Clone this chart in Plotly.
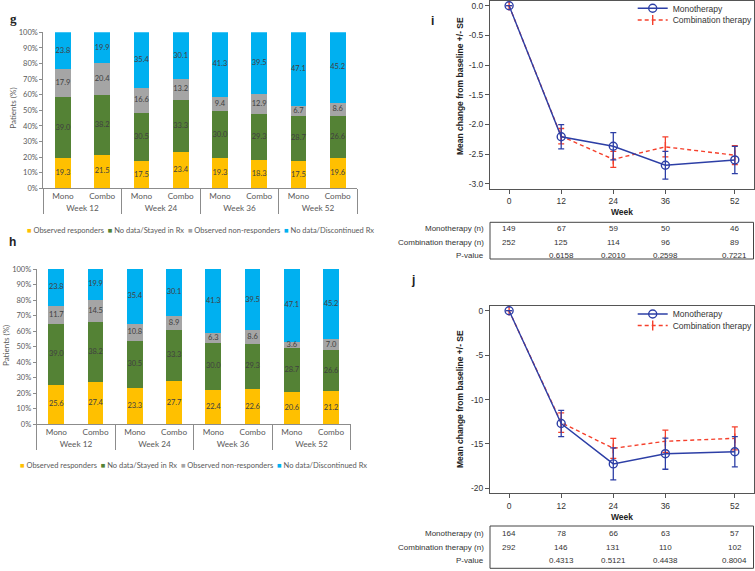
import plotly.graph_objects as go

W, H = 755, 571

# ---------------- data: panels g and h (stacked percentages) ----------------
bar_weeks = ["Week 12", "Week 24", "Week 36", "Week 52"]
bar_arms = ["Mono", "Combo"]
series_names = ["Observed responders", "No data/Stayed in Rx",
                "Observed non-responders", "No data/Discontinued Rx"]
series_colors = ["#FFC000", "#548235", "#A5A5A5", "#00B0F0"]

g_responders = [19.3, 21.5, 17.5, 23.4, 19.3, 18.3, 17.5, 19.6]
g_stayed = [39.0, 38.2, 30.5, 33.3, 30.0, 29.3, 28.7, 26.6]
g_nonresp = [17.9, 20.4, 16.6, 13.2, 9.4, 12.9, 6.7, 8.6]
g_discont = [23.8, 19.9, 35.4, 30.1, 41.3, 39.5, 47.1, 45.2]

h_responders = [25.6, 27.4, 23.3, 27.7, 22.4, 22.6, 20.6, 21.2]
h_stayed = [39.0, 38.2, 30.5, 33.3, 30.0, 29.3, 28.7, 26.6]
h_nonresp = [11.7, 14.5, 10.8, 8.9, 6.3, 8.6, 3.6, 7.0]
h_discont = [23.8, 19.9, 35.4, 30.1, 41.3, 39.5, 47.1, 45.2]

pct_ticks = [0, 10, 20, 30, 40, 50, 60, 70, 80, 90, 100]
pct_labels = ["0%", "10%", "20%", "30%", "40%", "50%", "60%", "70%", "80%", "90%", "100%"]

# ---------------- data: panels i and j (mean change +/- SE) ----------------
weeks = [0, 12, 24, 36, 52]
i_mono = [0.0, -2.21, -2.37, -2.69, -2.60]
i_mono_se = [0.0, 0.205, 0.23, 0.235, 0.23]
i_combo = [0.0, -2.20, -2.59, -2.38, -2.52]
i_combo_se = [0.0, 0.13, 0.135, 0.17, 0.16]

j_mono = [0.0, -12.7, -17.25, -16.1, -15.88]
j_mono_se = [0.0, 1.47, 1.8, 1.75, 1.7]
j_combo = [0.0, -12.6, -15.5, -14.7, -14.37]
j_combo_se = [0.0, 1.1, 1.12, 1.25, 1.3]

i_mono_n = [149, 67, 59, 50, 46]
i_combo_n = [252, 125, 114, 96, 89]
i_pvalue = ["", "0.6158", "0.2010", "0.2598", "0.7221"]
j_mono_n = [164, 78, 66, 63, 57]
j_combo_n = [292, 146, 131, 110, 102]
j_pvalue = ["", "0.4313", "0.5121", "0.4438", "0.8004"]
table_rows = ["Monotherapy (n)", "Combination therapy (n)", "P-value"]

i_yticks = [0.0, -0.5, -1.0, -1.5, -2.0, -2.5, -3.0]
i_yticktext = ["0.0", "-0.5", "-1.0", "-1.5", "-2.0", "-2.5", "-3.0"]
j_yticks = [0, -5, -10, -15, -20]
j_yticktext = ["0", "-5", "-10", "-15", "-20"]

mono_name = "Monotherapy"
combo_name = "Combination therapy"


def fx(p):
    return p / W


def fy(p):
    return 1 - p / H


BLUE = "#2D3FA6"
RED = "#F5402C"
XLFONT = "Lato, Liberation Sans, sans-serif"
SASFONT = "Liberation Sans, Arial, sans-serif"
XLGRAY = "#595959"
AXGRAY = "#8C8C8C"

fig = go.Figure()

cat_x = [[w for w in bar_weeks for a in bar_arms],
         [a for w in bar_weeks for a in bar_arms]]

for suffix, panel in (("", [g_responders, g_stayed, g_nonresp, g_discont]),
                      ("2", [h_responders, h_stayed, h_nonresp, h_discont])):
    base = [0.0] * len(panel[0])
    for name, color, vals in zip(series_names, series_colors, panel):
        fig.add_trace(go.Bar(
            x=cat_x, y=vals, name=name, marker=dict(color=color, line=dict(width=0)),
            width=0.4, showlegend=False, xaxis="x" + suffix, yaxis="y" + suffix,
            hoverinfo="skip"))
        mids = [b + v / 2 for b, v in zip(base, vals)]
        fig.add_trace(go.Scatter(
            x=cat_x, y=mids, mode="text", text=["%.1f" % v for v in vals],
            textfont=dict(family=XLFONT, size=7.5, color="#404040"),
            showlegend=False, xaxis="x" + suffix, yaxis="y" + suffix, hoverinfo="skip"))
        base = [b + v for b, v in zip(base, vals)]

line_specs = [
    ("3", i_mono, i_mono_se, i_combo, i_combo_se, "legend3", "legend4"),
    ("4", j_mono, j_mono_se, j_combo, j_combo_se, "legend5", "legend6"),
]
for suffix, mono, mono_se, combo, combo_se, lg_m, lg_c in line_specs:
    fig.add_trace(go.Scatter(
        x=weeks, y=combo, name=combo_name, mode="lines+markers",
        line=dict(color=RED, width=1.4, dash="4px,3px"),
        marker=dict(symbol="line-ns", size=7, color=RED, line=dict(width=1.4, color=RED)),
        error_y=dict(type="data", array=combo_se, visible=True, color=RED, thickness=1.3, width=3),
        xaxis="x" + suffix, yaxis="y" + suffix, legend=lg_c))
    fig.add_trace(go.Scatter(
        x=weeks, y=mono, name=mono_name, mode="lines+markers",
        line=dict(color=BLUE, width=1.4),
        marker=dict(symbol="circle-open", size=8, color=BLUE, line=dict(width=1.4, color=BLUE)),
        error_y=dict(type="data", array=mono_se, visible=True, color=BLUE, thickness=1.3, width=3),
        xaxis="x" + suffix, yaxis="y" + suffix, legend=lg_m))

bar_xaxis = dict(type="multicategory", showline=True, linecolor=AXGRAY, linewidth=1,
                 ticks="", showgrid=False, zeroline=False,
                 tickfont=dict(family=XLFONT, size=8.2, color=XLGRAY),
                 showdividers=True, dividercolor=AXGRAY, dividerwidth=1)
bar_yaxis = dict(range=[0, 100], tickvals=pct_ticks, ticktext=pct_labels, showline=True,
                 linecolor=AXGRAY, linewidth=1, ticks="outside", ticklen=3, tickcolor=AXGRAY,
                 showgrid=False, zeroline=False,
                 tickfont=dict(family=XLFONT, size=7.5, color=XLGRAY))
line_xaxis = dict(range=[-4.4, 56.3], tickvals=weeks, showline=True, mirror=True,
                  linecolor="#555555", linewidth=1, ticks="outside", ticklen=4,
                  tickcolor="#555555", showgrid=False, zeroline=False,
                  tickfont=dict(family=SASFONT, size=8.5, color="#333333"))
line_yaxis = dict(showline=True, mirror=True, linecolor="#555555", linewidth=1,
                  ticks="outside", ticklen=4, tickcolor="#555555", showgrid=False,
                  zeroline=False, tickfont=dict(family=SASFONT, size=8.5, color="#333333"))

legend_common = dict(bgcolor="rgba(0,0,0,0)", xanchor="left", yanchor="middle",
                     font=dict(family=SASFONT, size=8.5, color="#333333"))

fig.update_layout(
    width=W, height=H, margin=dict(l=0, r=0, t=0, b=0, autoexpand=False),
    paper_bgcolor="white", plot_bgcolor="white", barmode="stack",
    xaxis=dict(bar_xaxis, domain=[fx(43.3), fx(357.3)], anchor="y"),
    yaxis=dict(bar_yaxis, domain=[fy(188.3), fy(32.3)], anchor="x"),
    xaxis2=dict(bar_xaxis, domain=[fx(36.7), fx(350.7)], anchor="y2"),
    yaxis2=dict(bar_yaxis, domain=[fy(424.3), fy(269)], anchor="x2"),
    xaxis3=dict(line_xaxis, domain=[fx(490), fx(753.5)], anchor="y3"),
    yaxis3=dict(line_yaxis, domain=[fy(189), fy(0.5)], anchor="x3", range=[-3.09, 0.088],
                tickvals=i_yticks, ticktext=i_yticktext),
    xaxis4=dict(line_xaxis, domain=[fx(490), fx(753.5)], anchor="y4"),
    yaxis4=dict(line_yaxis, domain=[fy(493.3), fy(306)], anchor="x4", range=[-20.56, 0.53],
                tickvals=j_yticks, ticktext=j_yticktext),
    legend3=dict(legend_common, x=fx(632.7), y=fy(8.3)),
    legend4=dict(legend_common, x=fx(632.7), y=fy(20)),
    legend5=dict(legend_common, x=fx(632.7), y=fy(314)),
    legend6=dict(legend_common, x=fx(632.7), y=fy(325.5)),
    hovermode=False,
)

ann = []
# panel letters
ann.append(dict(text="<b>g</b>", x=fx(13.5), y=fy(18.3), font=dict(family="Liberation Serif", size=13, color="#222")))
ann.append(dict(text="<b>h</b>", x=fx(12), y=fy(241.7), font=dict(family=SASFONT, size=12, color="#222")))
ann.append(dict(text="<b>i</b>", x=fx(433), y=fy(20.7), font=dict(family=SASFONT, size=12, color="#222")))
ann.append(dict(text="<b>j</b>", x=fx(412.7), y=fy(280), font=dict(family=SASFONT, size=12, color="#222")))

# Patients (%) titles
ann.append(dict(text="Patients (%)", textangle=-90, x=fx(12.7), y=fy(108),
                font=dict(family=XLFONT, size=8, color=XLGRAY)))
ann.append(dict(text="Patients (%)", textangle=-90, x=fx(6), y=fy(346),
                font=dict(family=XLFONT, size=8, color=XLGRAY)))

# bar legends
legend_html = "  ".join('<span style="color:%s">\u25A0</span> %s' % (c, n)
                        for c, n in zip(series_colors, series_names))
ann.append(dict(text=legend_html, x=fx(200.3), y=fy(230),
                font=dict(family=XLFONT, size=7.5, color=XLGRAY)))
ann.append(dict(text=legend_html, x=fx(193.7), y=fy(465),
                font=dict(family=XLFONT, size=7.5, color=XLGRAY)))

# y titles and Week titles for i, j
ytitle = "<b>Mean change from baseline +/- SE</b>"
ann.append(dict(text=ytitle, textangle=-90, x=fx(460), y=fy(86),
                font=dict(family=SASFONT, size=8.5, color="#222")))
ann.append(dict(text=ytitle, textangle=-90, x=fx(460), y=fy(399),
                font=dict(family=SASFONT, size=8.5, color="#222")))
ann.append(dict(text="<b>Week</b>", x=fx(621.5), y=fy(211.7), font=dict(family=SASFONT, size=8.5, color="#222")))
ann.append(dict(text="<b>Week</b>", x=fx(621.5), y=fy(516.7), font=dict(family=SASFONT, size=8.5, color="#222")))

# tables under i and j
tables = [
    ("x3", [228.7, 242.7, 255.5], [i_mono_n, i_combo_n, i_pvalue]),
    ("x4", [533.3, 547.3, 560.7], [j_mono_n, j_combo_n, j_pvalue]),
]
for xref, rows_y, rows in tables:
    for label, yy, vals in zip(table_rows, rows_y, rows):
        ann.append(dict(text=label, x=fx(486), y=fy(yy), xanchor="right",
                        font=dict(family=SASFONT, size=8, color="#333333")))
        for wk, v in zip(weeks, vals):
            if v == "":
                continue
            ann.append(dict(text=str(v), x=wk, xref=xref, y=fy(yy), yref="paper",
                            xanchor="center", font=dict(family=SASFONT, size=8, color="#333333")))

for a in ann:
    a.setdefault("xref", "paper")
    a.setdefault("yref", "paper")
    a.setdefault("showarrow", False)
    a.setdefault("xanchor", "center")
    a.setdefault("yanchor", "middle")
fig.update_layout(annotations=ann)

fig.update_layout(shapes=[
    dict(type="rect", xref="paper", yref="paper", x0=fx(490), x1=fx(753.5),
         y0=fy(259), y1=fy(222.3), line=dict(color="#444444", width=1)),
    dict(type="rect", xref="paper", yref="paper", x0=fx(490), x1=fx(753.5),
         y0=fy(568.3), y1=fy(526), line=dict(color="#444444", width=1)),
])

fig.write_html("out.html", config={"displayModeBar": False},
               post_script="document.body.style.margin='0';")
